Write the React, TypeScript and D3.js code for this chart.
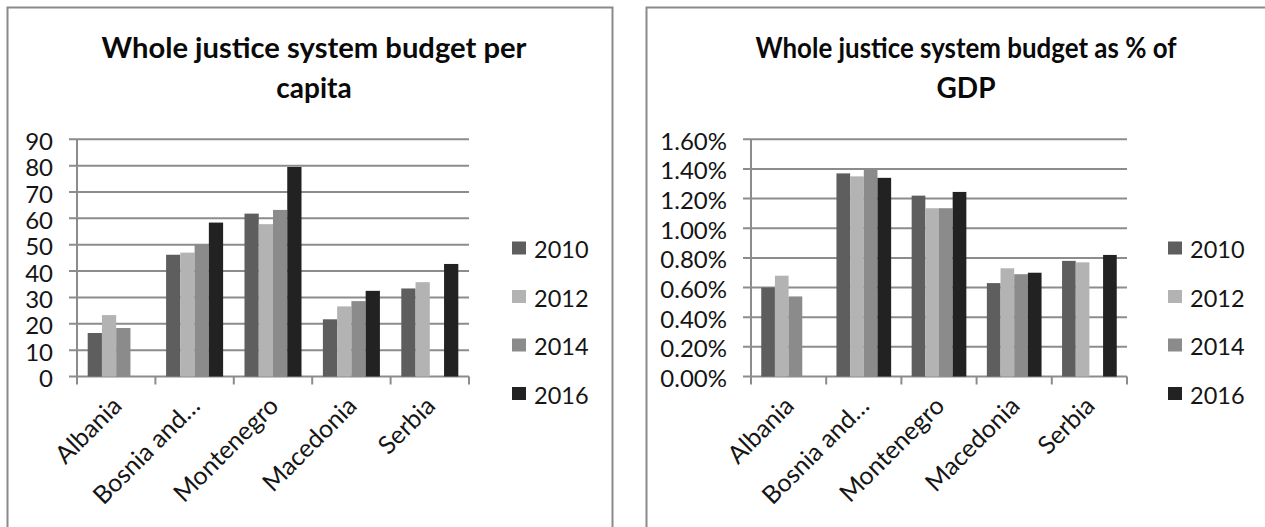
import React from "react";
import * as d3 from "d3";

const countries = ["Albania", "Bosnia and…", "Montenegro", "Macedonia", "Serbia"];
const years = ["2010", "2012", "2014", "2016"];

// Budget per capita
const perCapita2010 = [16.5, 46.2, 61.8, 21.7, 33.4];
const perCapita2012 = [23.3, 47.0, 57.8, 26.6, 35.8];
const perCapita2014 = [18.4, 50.2, 63.2, 28.6, null];
const perCapita2016 = [null, 58.4, 79.5, 32.5, 42.7];
const perCapitaTicks = [0, 10, 20, 30, 40, 50, 60, 70, 80, 90];

// Budget as % of GDP
const gdp2010 = [0.0060, 0.0137, 0.0122, 0.0063, 0.0078];
const gdp2012 = [0.0068, 0.0135, 0.01135, 0.0073, 0.0077];
const gdp2014 = [0.0054, 0.0140, 0.01135, 0.0069, null];
const gdp2016 = [null, 0.0134, 0.01245, 0.0070, 0.0082];
const gdpTicks = [0, 0.002, 0.004, 0.006, 0.008, 0.010, 0.012, 0.014, 0.016];

const titleLeft = ["Whole justice system budget per", "capita"];
const titleRight = ["Whole justice system budget as % of", "GDP"];

const colors = ["#5e5e5e", "#b3b3b3", "#8b8b8b", "#222222"];
const FONT = "Lato, 'Open Sans', sans-serif";
const GRID = "#8c8c8c";
const TEXT = "#151515";

type ChartProps = {
  boxX: number;
  boxW: number;
  plotX0: number;
  plotX1: number;
  titleCx: number;
  titleW: number;
  title: string[];
  series: (number | null)[][];
  ticks: number[];
  fmt: (v: number) => string;
  legendX: number;
};

function Chart(p: ChartProps) {
  const plotTop = 139.3;
  const plotBottom = 376.5;
  const y = d3
    .scaleLinear()
    .domain([p.ticks[0], p.ticks[p.ticks.length - 1]])
    .range([plotBottom, plotTop]);
  const x0 = d3.scaleBand<string>().domain(countries).range([p.plotX0, p.plotX1]).padding(0);
  const bw = x0.bandwidth();
  const groupW = (bw * 4) / 5.5;
  const x1 = d3.scaleBand<string>().domain(years).range([0, groupW]).padding(0);
  const tickLen = 8;
  const boundaries = countries.map((c) => x0(c) as number).concat([p.plotX1]);

  return (
    <g>
      <rect x={p.boxX} y={7.5} width={p.boxW} height={560} fill="#ffffff" stroke="#8a8a8a" strokeWidth={2} />
      {p.title.map((t, i) => (
        <text
          key={i}
          x={p.titleCx}
          y={58 + i * 39.5}
          textAnchor="middle"
          fontFamily={FONT}
          fontWeight="bold"
          fontSize={28}
          fill="#0a0a0a"
          textLength={i === 0 ? p.titleW : undefined}
          lengthAdjust={i === 0 ? "spacingAndGlyphs" : undefined}
        >
          {t}
        </text>
      ))}
      {/* gridlines + y ticks */}
      {p.ticks.map((t) => (
        <g key={t}>
          <line x1={p.plotX0 - tickLen} x2={p.plotX1} y1={y(t)} y2={y(t)} stroke={GRID} strokeWidth={2} />
          <text
            x={p.plotX0 - 24}
            y={y(t) + 1}
            textAnchor="end"
            dominantBaseline="central"
            fontFamily={FONT}
            fontSize={24}
            fill={TEXT}
          >
            {p.fmt(t)}
          </text>
        </g>
      ))}
      {/* y axis line */}
      <line x1={p.plotX0} x2={p.plotX0} y1={plotTop} y2={plotBottom} stroke={GRID} strokeWidth={2} />
      {/* x ticks */}
      {boundaries.map((bx, i) => (
        <line key={i} x1={bx} x2={bx} y1={plotBottom} y2={plotBottom + tickLen} stroke={GRID} strokeWidth={2} />
      ))}
      {/* bars */}
      {p.series.map((vals, si) =>
        vals.map((v, ci) =>
          v == null ? null : (
            <rect
              key={`${si}-${ci}`}
              x={(x0(countries[ci]) as number) + (bw - groupW) / 2 + (x1(years[si]) as number)}
              y={y(v)}
              width={x1.bandwidth()}
              height={plotBottom - y(v)}
              fill={colors[si]}
            />
          )
        )
      )}
      {/* x labels */}
      {countries.map((c) => {
        const cx = (x0(c) as number) + bw / 2 + 7;
        const cy = plotBottom + 31;
        return (
          <text
            key={c}
            x={cx}
            y={cy}
            textAnchor="end"
            transform={`rotate(-45 ${cx} ${cy})`}
            fontFamily={FONT}
            fontSize={25}
            fill={TEXT}
          >
            {c}
          </text>
        );
      })}
      {/* legend */}
      {years.map((yr, i) => {
        const ly = 248 + i * 48.5;
        return (
          <g key={yr}>
            <rect x={p.legendX} y={ly - 6.5} width={14} height={13} fill={colors[i]} />
            <text
              x={p.legendX + 22}
              y={ly + 1}
              dominantBaseline="central"
              fontFamily={FONT}
              fontSize={23.5}
              fill={TEXT}
            >
              {yr}
            </text>
          </g>
        );
      })}
    </g>
  );
}

export default function App() {
  const pct = d3.format(".2%");
  return (
    <svg
      width={1265}
      height={527}
      style={{ position: "absolute", left: 0, top: 0, background: "#ffffff" }}
    >
      <rect x={0} y={0} width={1265} height={527} fill="#ffffff" />
      <Chart
        boxX={7.5}
        boxW={605}
        plotX0={77}
        plotX1={469}
        titleCx={314}
        titleW={425}
        title={titleLeft}
        series={[perCapita2010, perCapita2012, perCapita2014, perCapita2016]}
        ticks={perCapitaTicks}
        fmt={(v) => String(v)}
        legendX={512}
      />
      <Chart
        boxX={646.5}
        boxW={640}
        plotX0={751}
        plotX1={1127}
        titleCx={966}
        titleW={421}
        title={titleRight}
        series={[gdp2010, gdp2012, gdp2014, gdp2016]}
        ticks={gdpTicks}
        fmt={(v) => pct(v)}
        legendX={1168}
      />
    </svg>
  );
}
